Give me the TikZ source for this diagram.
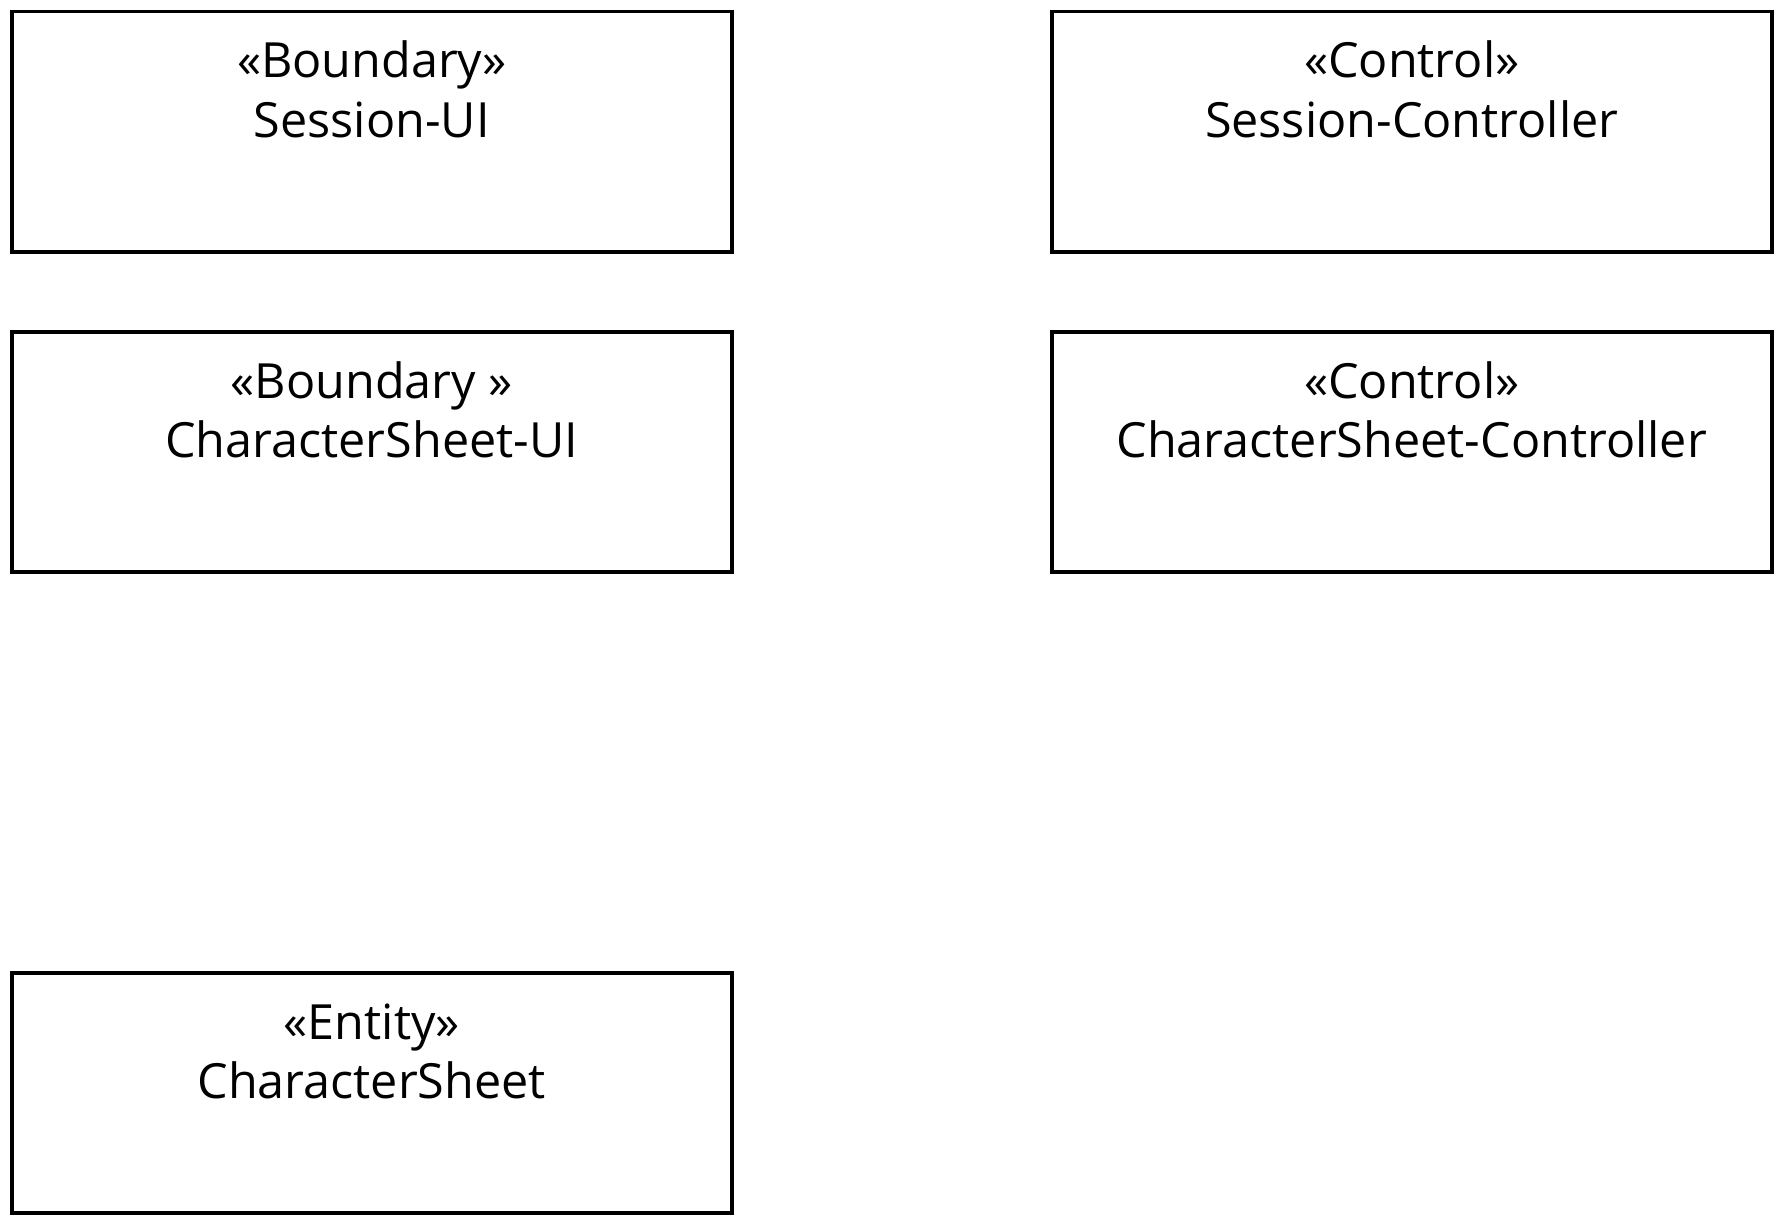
\documentclass[tikz,border=0pt]{standalone}
\usepackage{fontspec}
\setmainfont{Open Sans}
\begin{document}
\begin{tikzpicture}[x=1pt,y=-1pt,
  umlbox/.style={draw=black, line width=3.5pt, rectangle, inner sep=0pt, minimum width=720pt, minimum height=240pt, anchor=north west},
  lbl/.style={font=\fontsize{48.5}{54}\selectfont, anchor=base, inner sep=0pt}]
\useasboundingbox (0,0) rectangle (1780,1220);
% boxes
\node[umlbox] (sui) at (10,10) {};
\node[umlbox] (sc) at (1050,10) {};
\node[umlbox] (csui) at (10,330) {};
\node[umlbox] (csc) at (1050,330) {};
\node[umlbox] (cs) at (10,971) {};
% labels
\node[lbl] (sui1) at ([yshift=-68pt]sui.north) {«Boundary»};
\node[lbl] (sui2) at ([yshift=-127.5pt]sui.north) {Session-UI};
\node[lbl] (sc1) at ([yshift=-68pt]sc.north) {«Control»};
\node[lbl] (sc2) at ([yshift=-127.5pt]sc.north) {Session-Controller};
\node[lbl] (csui1) at ([yshift=-68pt]csui.north) {«Boundary »};
\node[lbl] (csui2) at ([yshift=-127.5pt]csui.north) {CharacterSheet-UI};
\node[lbl] (csc1) at ([yshift=-68pt]csc.north) {«Control»};
\node[lbl] (csc2) at ([yshift=-127.5pt]csc.north) {CharacterSheet-Controller};
\node[lbl] (cs1) at ([yshift=-68pt]cs.north) {«Entity»};
\node[lbl] (cs2) at ([yshift=-127.5pt]cs.north) {CharacterSheet};
\end{tikzpicture}
\end{document}
